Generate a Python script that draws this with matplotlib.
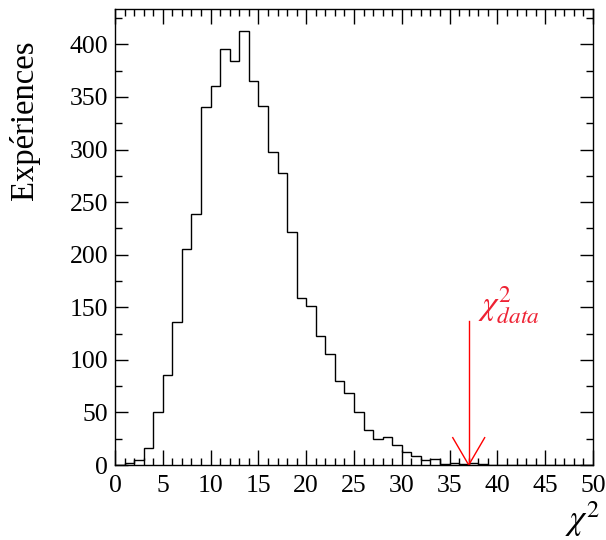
import matplotlib
matplotlib.use("Agg")
import matplotlib.pyplot as plt
import numpy as np
from matplotlib.ticker import MultipleLocator

# ---- data ----
bin_edges = list(range(0, 51))
counts = [0, 2, 5, 16, 50, 86, 136, 205, 239, 340,
          360, 396, 384, 413, 365, 341, 298, 278, 222, 159,
          151, 123, 106, 80, 68, 50, 33, 25, 27, 19,
          12, 9, 5, 6, 1, 2, 1, 2, 1, 0,
          0, 0, 0, 0, 0, 0, 0, 0, 0, 0]
chi2_data = 37.0
arrow_top = 137
x_ticks = [0, 5, 10, 15, 20, 25, 30, 35, 40, 45, 50]
y_ticks = [0, 50, 100, 150, 200, 250, 300, 350, 400]
y_title = "Expériences"
x_title = r"$\chi^{2}$"
data_label = r"$\chi^{2}_{data}$"

plt.rcParams['font.family'] = ['Liberation Serif', 'DejaVu Serif']
plt.rcParams['mathtext.fontset'] = 'stix'

fig = plt.figure(figsize=(6.06, 5.40), dpi=100)
ax = fig.add_axes([115/606, 1-465/540, (593-115)/606, (465-9)/540])

ax.stairs(counts, bin_edges, color='black', lw=1.0, baseline=0)

ax.set_xlim(0, 50)
ax.set_ylim(0, 1.05*max(counts))

ax.set_xticks(x_ticks)
ax.set_yticks(y_ticks)
ax.xaxis.set_minor_locator(MultipleLocator(1))
ax.yaxis.set_minor_locator(MultipleLocator(25))
ax.tick_params(which='both', direction='in', top=True, right=True, width=1.0, colors='black')
ax.tick_params(axis='x', which='major', length=10.5, pad=7, labelsize=18.5)
ax.tick_params(axis='y', which='major', length=9.5, pad=5, labelsize=18.5)
ax.tick_params(which='minor', length=5)
for s in ax.spines.values():
    s.set_linewidth(1.0)

# arrow
ax.plot([chi2_data, chi2_data], [0, arrow_top], color='red', lw=1.0)
hw = 1.67
hl = 26
ax.plot([chi2_data - hw, chi2_data, chi2_data + hw], [hl, 0, hl], color='red', lw=1.0, clip_on=False)
ax.text(chi2_data + 0.95, arrow_top + 6, data_label, color='#ee2233', fontsize=24,
        ha='left', va='baseline')

# titles
fig.text(25/606, 1-40/540, y_title, rotation=90, ha='center', va='top', fontsize=23.5)
fig.text(600/606, 1-530/540, x_title, ha='right', va='baseline', fontsize=25)

fig.savefig("out.png", dpi=100)
